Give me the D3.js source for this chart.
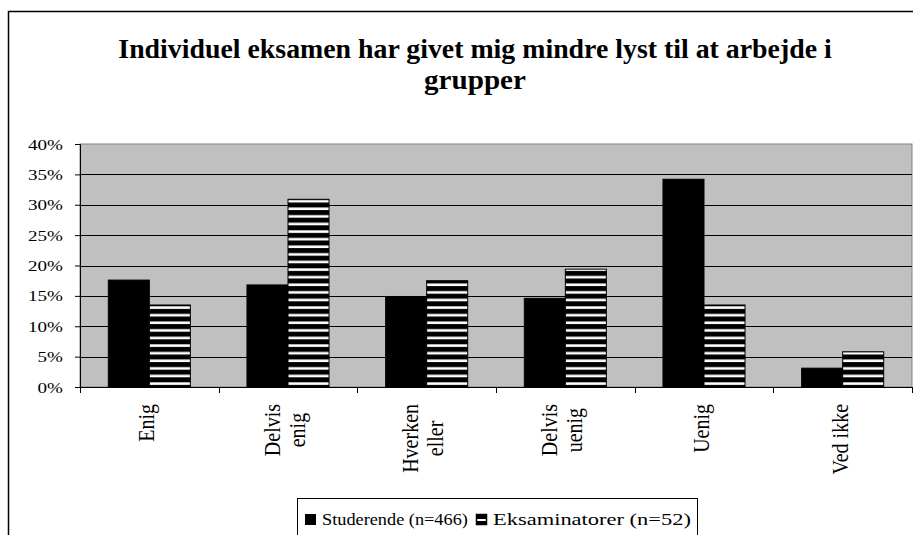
<!DOCTYPE html>
<html>
<head>
<meta charset="utf-8">
<script src="https://cdn.jsdelivr.net/npm/d3@7"></script>
<style>
  body { margin: 0; background: #fff; }
</style>
</head>
<body>
<svg id="chart" width="913" height="535" font-family="Liberation Serif"></svg>
<script>
// data
var categories = [["Enig"], ["Delvis", "enig"], ["Hverken", "eller"], ["Delvis", "uenig"], ["Uenig"], ["Ved ikke"]];
var seriesNames = ["Studerende (n=466)", "Eksaminatorer (n=52)"];
var studerende = [17.6, 16.8, 14.9, 14.6, 34.2, 3.1];
var eksaminatorer = [13.5, 30.9, 17.5, 19.4, 13.5, 5.8];
var yTicks = [0, 5, 10, 15, 20, 25, 30, 35, 40];
var titleLines = ["Individuel eksamen har givet mig mindre lyst til at arbejde i", "grupper"];

var serif = "Liberation Serif";
var svg = d3.select("#chart");
var plot = { left: 80, right: 912, top: 144, bottom: 387 };

// squeeze/stretch a text horizontally to a given width
function fitWidth(sel, cx, cy, w, anchorMid) {
  var len = sel.node().getComputedTextLength();
  var k = w / len;
  sel.attr("x", 0).attr("y", 0)
    .attr("text-anchor", anchorMid ? "middle" : "start")
    .attr("transform", "translate(" + cx + "," + cy + ") scale(" + k + ",1)");
}

// outer chart frame (runs off the right and bottom edge)
svg.append("rect")
  .attr("x", 8.5).attr("y", 11.5)
  .attr("width", 1000).attr("height", 1000)
  .attr("fill", "#fff").attr("stroke", "#000").attr("stroke-width", 1.5);

var defs = svg.append("defs");
var pat = defs.append("pattern")
  .attr("id", "stripes")
  .attr("patternUnits", "userSpaceOnUse")
  .attr("x", 0).attr("y", 2)
  .attr("width", 10).attr("height", 7.6);
pat.append("rect").attr("width", 10).attr("height", 7.6).attr("fill", "#000");
pat.append("rect").attr("y", 0.3).attr("width", 10).attr("height", 2.6).attr("fill", "#fff");

// title
titleLines.forEach(function(line, i) {
  var t = svg.append("text")
    .attr("font-family", serif)
    .attr("font-weight", "bold")
    .attr("font-size", 28)
    .text(line);
  fitWidth(t, 475, 58 + i * 31, i == 0 ? 714 : 102, true);
});

var x0 = d3.scaleBand()
  .domain(d3.range(categories.length))
  .range([plot.left, plot.right]);

var x1 = d3.scaleBand()
  .domain([0, 1])
  .range([0, x0.bandwidth()])
  .paddingOuter(0.69);

var y = d3.scaleLinear()
  .domain([0, 40])
  .range([plot.bottom, plot.top]);

// plot area
svg.append("rect")
  .attr("x", plot.left).attr("y", plot.top)
  .attr("width", plot.right - plot.left).attr("height", plot.bottom - plot.top)
  .attr("fill", "#c0c0c0").attr("stroke", "#808080");

svg.selectAll(".grid")
  .data(yTicks.filter(function(t) { return t > 0 && t < 40; }))
  .enter().append("line")
  .attr("class", "grid")
  .attr("x1", plot.left).attr("x2", plot.right)
  .attr("y1", function(d) { return Math.round(y(d)) + 0.5; })
  .attr("y2", function(d) { return Math.round(y(d)) + 0.5; })
  .attr("stroke", "#000").attr("stroke-width", 1);

// bars
var series = [studerende, eksaminatorer];
series.forEach(function(vals, s) {
  svg.selectAll(".bar" + s)
    .data(vals)
    .enter().append("rect")
    .attr("class", "bar" + s)
    .attr("x", function(d, i) { return x0(i) + x1(s); })
    .attr("y", function(d) { return y(d); })
    .attr("width", x1.bandwidth())
    .attr("height", function(d) { return y(0) - y(d); })
    .attr("fill", s == 0 ? "#000" : "url(#stripes)")
    .attr("stroke", "#000").attr("stroke-width", 1);
});

// y axis
var yAxis = svg.append("g")
  .attr("transform", "translate(" + plot.left + ",0)")
  .call(d3.axisLeft(y).tickValues(yTicks).tickSize(5).tickFormat(function(d) { return d + "%"; }));
yAxis.attr("font-family", serif);
yAxis.select(".domain").attr("stroke", "#000");
yAxis.selectAll("text")
  .attr("x", -13.5)
  .attr("dy", "0.34em")
  .attr("font-size", 15)
  .attr("font-family", serif)
  .attr("fill", "#000")
  .attr("transform", "scale(1.27,1)");

// x axis
svg.append("line")
  .attr("x1", plot.left).attr("x2", plot.right)
  .attr("y1", plot.bottom + 0.5).attr("y2", plot.bottom + 0.5)
  .attr("stroke", "#000");
svg.selectAll(".xtick")
  .data(d3.range(categories.length + 1))
  .enter().append("line")
  .attr("class", "xtick")
  .attr("x1", function(d) { return Math.round(plot.left + d * x0.step()) + 0.5; })
  .attr("x2", function(d) { return Math.round(plot.left + d * x0.step()) + 0.5; })
  .attr("y1", plot.bottom).attr("y2", plot.bottom + 6)
  .attr("stroke", "#000");

// category labels, rotated
categories.forEach(function(lines, i) {
  var cx = x0(i) + x0.bandwidth() / 2;
  var g = svg.append("g").attr("transform", "translate(" + cx + ",0) scale(1.19,1)");
  var t = g.append("text")
    .attr("transform", "rotate(-90)")
    .attr("text-anchor", "middle")
    .attr("font-family", serif)
    .attr("font-size", 20);
  var offs = lines.length == 1 ? [5] : [-8.5, 16.5];
  var spans = t.selectAll("tspan")
    .data(lines)
    .enter().append("tspan")
    .attr("y", function(d, j) { return offs[j] / 1.19; })
    .text(function(d) { return d; });
  var maxLen = 0;
  spans.each(function() { maxLen = Math.max(maxLen, this.getComputedTextLength()); });
  spans.attr("x", -(404 + maxLen / 2));
});

// legend
var legend = svg.append("g");
legend.append("rect")
  .attr("x", 297.5).attr("y", 498.5)
  .attr("width", 400).attr("height", 60)
  .attr("fill", "#fff").attr("stroke", "#000");
var legX = [305, 476];
var legW = [146, 198];
seriesNames.forEach(function(name, s) {
  if (s == 0) {
    legend.append("rect")
      .attr("x", legX[s]).attr("y", 514).attr("width", 11).attr("height", 11)
      .attr("fill", "#000");
  } else {
    legend.append("rect")
      .attr("x", legX[s] + 0.5).attr("y", 514.5).attr("width", 10).attr("height", 10)
      .attr("fill", "#fff").attr("stroke", "#000").attr("stroke-width", 1.5);
    legend.append("rect")
      .attr("x", legX[s] + 1).attr("y", 515).attr("width", 9).attr("height", 4)
      .attr("fill", "#000");
    legend.append("rect")
      .attr("x", legX[s] + 1).attr("y", 521).attr("width", 9).attr("height", 3)
      .attr("fill", "#000");
  }
  var t = legend.append("text")
    .attr("font-family", serif)
    .attr("font-size", 16)
    .text(name);
  fitWidth(t, legX[s] + 17, 525, legW[s], false);
});
</script>
</body>
</html>
